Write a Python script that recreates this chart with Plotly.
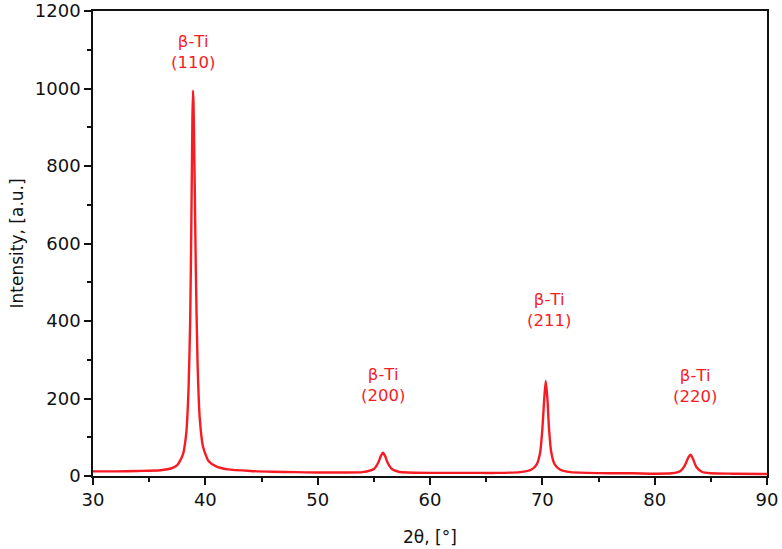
import plotly.graph_objects as go

two_theta = [30, 32, 34, 36, 37, 37.5, 38, 38.3, 38.5, 38.65, 38.75, 38.85, 38.9, 38.95,
             39.05, 39.15, 39.3, 39.5, 39.8, 40.3, 41, 42, 44, 46, 48, 50, 52, 54, 55,
             55.4, 55.6, 55.8, 56.0, 56.2, 56.6, 57.2, 58, 60, 62, 64, 66, 68, 69, 69.5,
             69.8, 70.0, 70.15, 70.3, 70.45, 70.6, 70.8, 71.1, 71.6, 72.5, 74, 76, 78, 80,
             81.5, 82.3, 82.7, 83.0, 83.2, 83.4, 83.7, 84.2, 85, 87, 90]
intensity = [12, 12, 13, 15, 20, 28, 55, 110, 220, 400, 640, 920, 995, 960,
             760, 540, 300, 150, 75, 38, 24, 17, 13, 11, 10, 9, 9, 10, 18,
             35, 50, 60, 52, 36, 18, 11, 9, 8, 8, 8, 8, 10, 16, 30,
             60, 120, 190, 245, 200, 120, 60, 30, 16, 10, 8, 7, 7, 6,
             7, 13, 28, 48, 55, 45, 24, 11, 7, 6, 5]

label_text = ["β-Ti<br>(110)", "β-Ti<br>(200)", "β-Ti<br>(211)", "β-Ti<br>(220)"]
label_x = [38.9, 55.8, 70.6, 83.6]
label_y = [1095, 235, 428, 232]

FONT = "DejaVu Sans"
RED = "#f51c24"
INK = "#111111"

fig = go.Figure()
fig.add_trace(go.Scatter(x=two_theta, y=intensity, mode="lines",
                         line=dict(color=RED, width=2.4, shape="spline", smoothing=0.6),
                         showlegend=False))

for t, x, y in zip(label_text, label_x, label_y):
    fig.add_annotation(x=x, y=y, text=t, showarrow=False,
                       font=dict(family=FONT, size=16.5, color=RED),
                       xanchor="center", yanchor="middle")

fig.add_annotation(xref="paper", yref="paper", x=-0.1128, y=0.5, text="Intensity, [a.u.]",
                   textangle=-90, showarrow=False, xanchor="center", yanchor="middle",
                   font=dict(family=FONT, size=17, color=INK))
fig.add_annotation(xref="paper", yref="paper", x=0.5, y=-0.131, text="2θ, [°]",
                   showarrow=False, xanchor="center", yanchor="middle",
                   font=dict(family=FONT, size=17, color=INK))

axis_common = dict(showline=True, linecolor=INK, linewidth=1.5, mirror=True,
                   ticks="outside", ticklen=7, tickwidth=1.5, tickcolor=INK,
                   showgrid=False, zeroline=False, automargin=False,
                   tickfont=dict(family=FONT, size=18, color=INK))

fig.update_xaxes(range=[30, 90], dtick=10,
                 minor=dict(ticks="outside", dtick=5, ticklen=4, tickwidth=1.5, tickcolor=INK),
                 **axis_common)
fig.update_yaxes(range=[0, 1200], dtick=200,
                 minor=dict(ticks="outside", dtick=100, ticklen=4, tickwidth=1.5, tickcolor=INK),
                 **axis_common)

fig.update_layout(width=782, height=549, margin=dict(l=93, r=15, t=11, b=73),
                  plot_bgcolor="white", paper_bgcolor="white")

fig.write_html("out.html", config={"displayModeBar": False},
               post_script="document.body.style.margin='0';")
